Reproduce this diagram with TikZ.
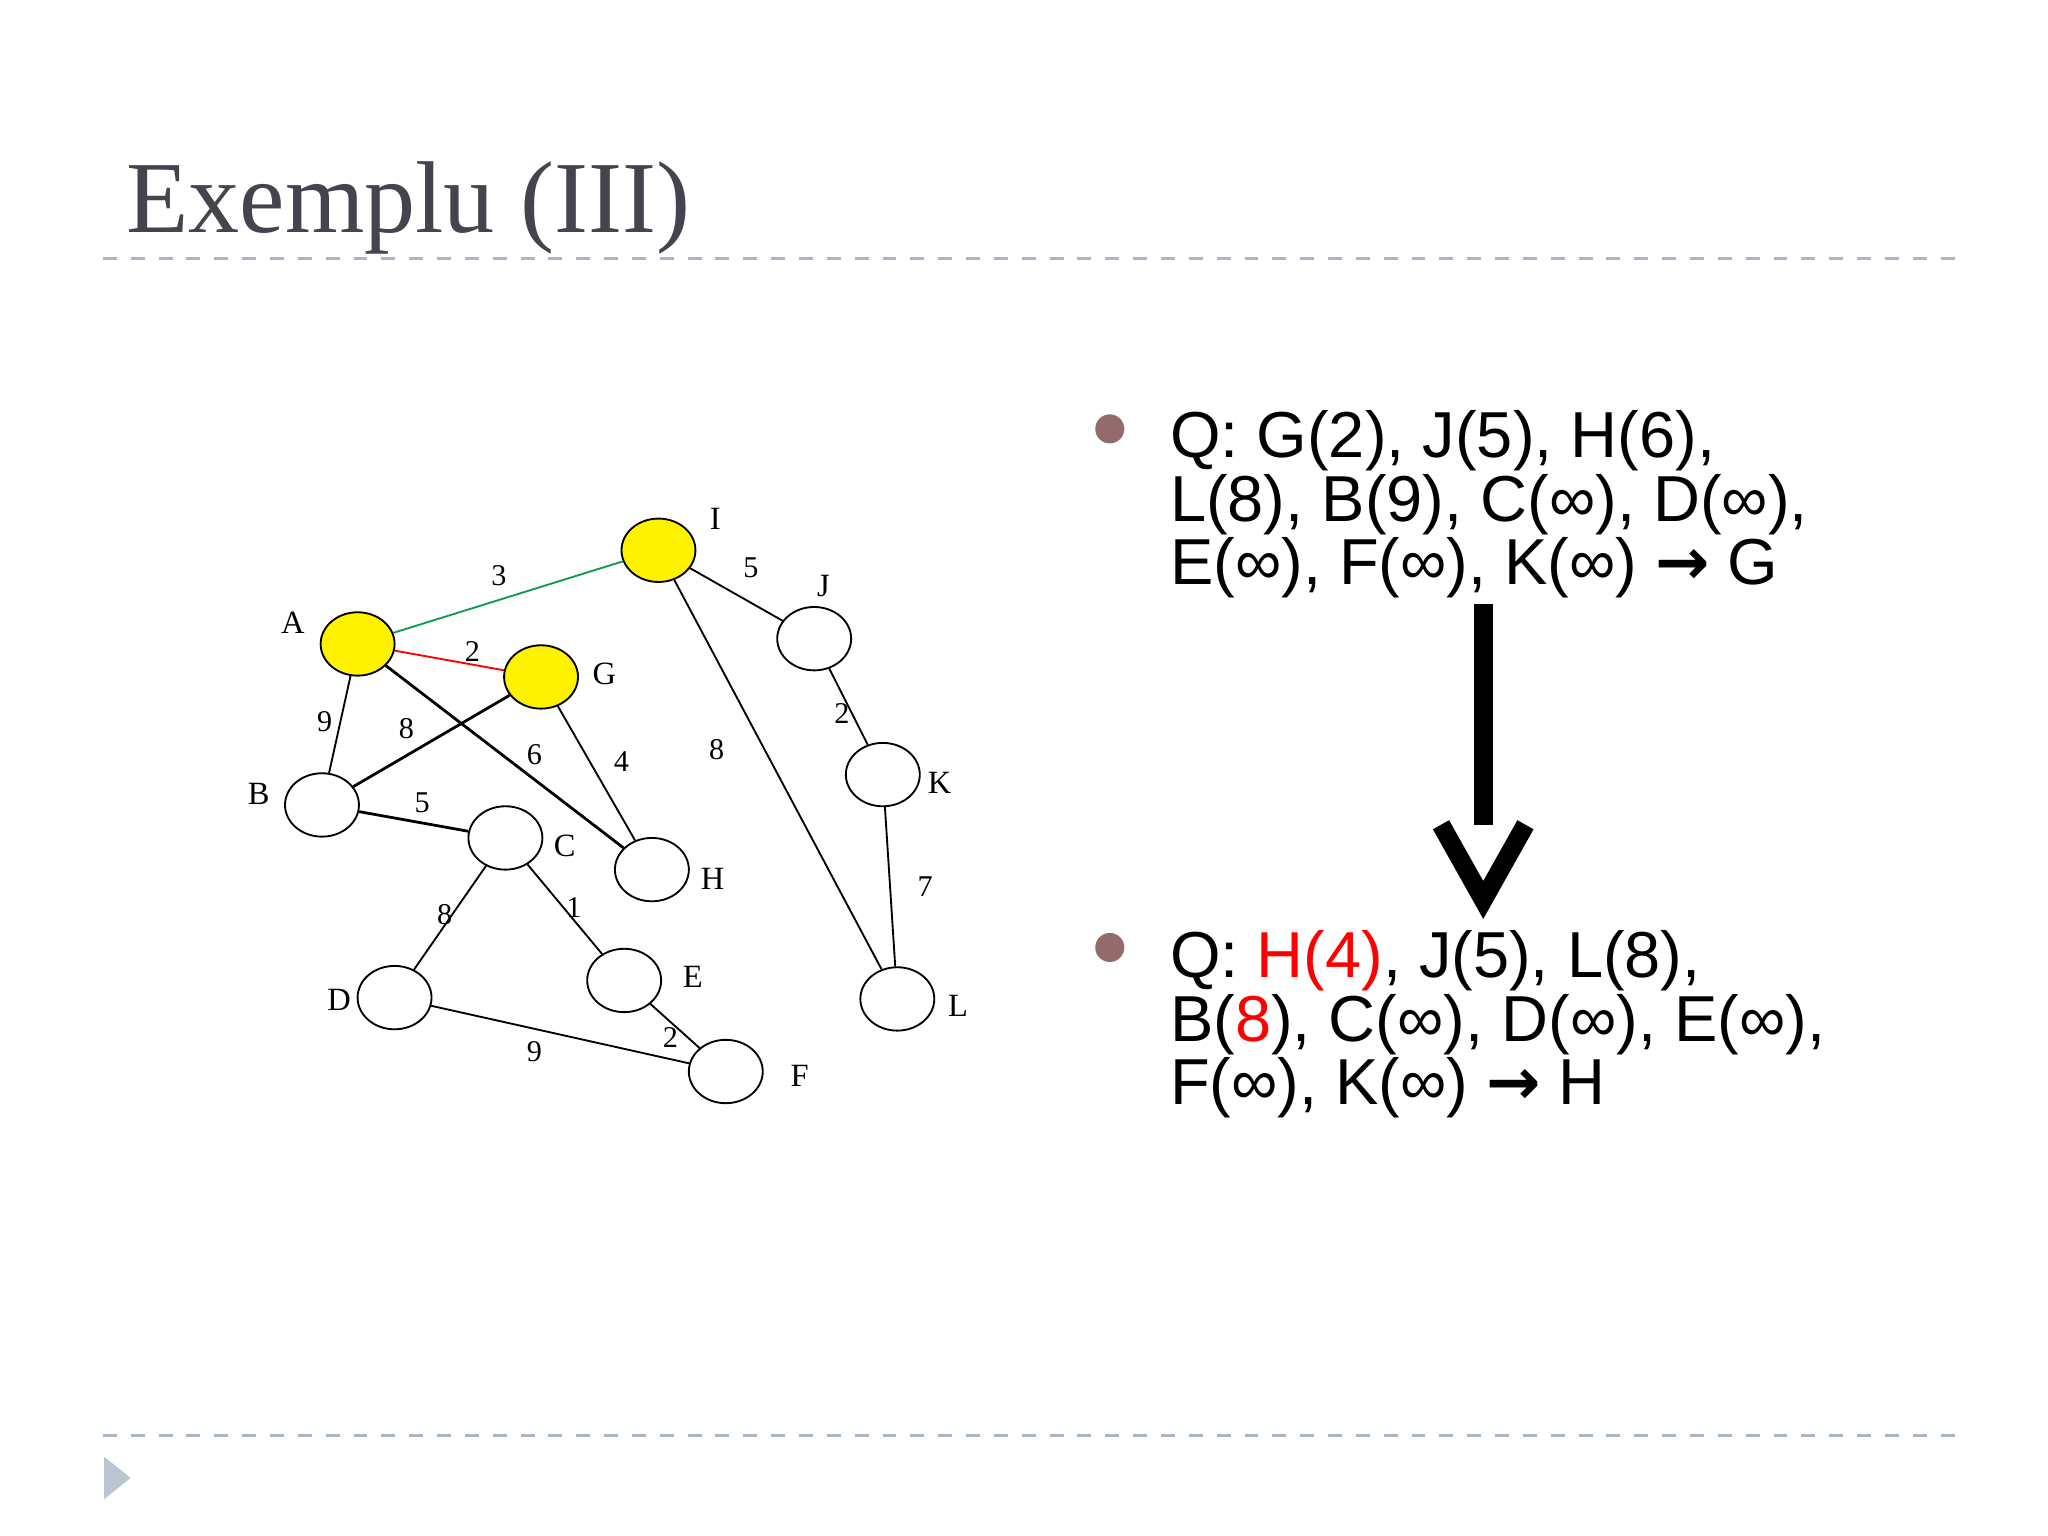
\documentclass[tikz,border=0pt]{standalone}
\usepackage{fontspec}
\setmainfont{Liberation Serif}
\newfontfamily\slidesans{Liberation Sans}
\newfontfamily\arrowfont{DejaVu Sans}
\usetikzlibrary{shapes.geometric}
\definecolor{titlegray}{HTML}{44444F}
\definecolor{rulegray}{HTML}{A9B6C6}
\definecolor{bulletbrown}{HTML}{956A6A}
\definecolor{edgegreen}{HTML}{109A50}
\newcommand{\inftxt}{∞}
\newcommand{\qarrow}{{\arrowfont\bfseries →}}
\tikzstyle{vertex} = [draw, ellipse, minimum width=0.56cm, minimum height=0.48cm, inner sep=0pt]
\tikzstyle{visited} = [vertex, fill=yellow]
\tikzstyle{vname} = [font=\fontsize{7}{8}\selectfont]
\tikzstyle{wlabel} = [font=\fontsize{6.5}{8}\selectfont]
\tikzstyle{qline} = [anchor=base west, inner sep=0pt, font=\slidesans\fontsize{14}{14}\selectfont]
\tikzstyle{bullet} = [circle, fill=bulletbrown, minimum size=0.22cm, inner sep=0pt]
\tikzstyle{slide_rule} = [draw=rulegray, dashed, line width=0.6pt]
\begin{document}
\begin{tikzpicture}[x=0.01cm, y=-0.01cm]
\useasboundingbox[fill=white] (0,0) rectangle (1552,1164);

% title and rules
\node [anchor=base west, inner sep=0pt, text=titlegray, font=\fontsize{22}{26}\selectfont] (title) at (95,176) {Exemplu (III)};
\coordinate (r1l) at (78,196); \coordinate (r1r) at (1490,196);
\coordinate (r2l) at (78,1088); \coordinate (r2r) at (1490,1088);
\path [slide_rule] (r1l) -- (r1r);
\path [slide_rule] (r2l) -- (r2r);
\fill [rulegray!80] (79,1104) -- (99,1120) -- (79,1136) -- cycle;

% graph vertices
\node [visited] (A) at (271,488) {};
\node [visited] (I) at (499,417) {};
\node [visited] (G) at (410,513) {};
\node [vertex] (J) at (617,484) {};
\node [vertex] (K) at (669,587) {};
\node [vertex] (B) at (244,610) {};
\node [vertex] (C) at (383,635) {};
\node [vertex] (H) at (494,659) {};
\node [vertex] (D) at (299,756) {};
\node [vertex] (E) at (473,743) {};
\node [vertex] (F) at (550,812) {};
\node [vertex] (L) at (680,757) {};

\node [vname] at (222,472) {A};
\node [vname] at (542,393) {I};
\node [vname] at (458,511) {G};
\node [vname] at (624,444) {J};
\node [vname] at (712,593) {K};
\node [vname] at (196,602) {B};
\node [vname] at (428,641) {C};
\node [vname] at (540,666) {H};
\node [vname] at (257,758) {D};
\node [vname] at (525,740) {E};
\node [vname] at (606,815) {F};
\node [vname] at (726,762) {L};

% edges
\draw [edgegreen] (A) -- (I);
\draw [red] (A) -- (G);
\draw (I) -- (J);
\draw (A) -- (B);
\draw [line width=0.6pt] (G) -- (B);
\draw [line width=0.6pt] (A) -- (H);
\draw (G) -- (H);
\draw (I) -- (L);
\draw (J) -- (K);
\draw (K) -- (L);
\draw [line width=0.6pt] (B) -- (C);
\draw (C) -- (D);
\draw (C) -- (E);
\draw (D) -- (F);
\draw (E) -- (F);

\node [wlabel] at (378,436) {3};
\node [wlabel] at (358,494) {2};
\node [wlabel] at (569,430) {5};
\node [wlabel] at (246,547) {9};
\node [wlabel] at (308,552) {8};
\node [wlabel] at (405,572) {6};
\node [wlabel] at (471,577) {4};
\node [wlabel] at (543,568) {8};
\node [wlabel] at (638,541) {2};
\node [wlabel] at (701,672) {7};
\node [wlabel] at (320,608) {5};
\node [wlabel] at (337,693) {8};
\node [wlabel] at (435,688) {1};
\node [wlabel] at (405,797) {9};
\node [wlabel] at (508,786) {2};

% queue states
\node [bullet] (b1) at (841,325) {};
\node [qline] (q1a) at (886,347) {Q: G(2), J(5), H(6),};
\node [qline] (q1b) at (886,395) {L(8), B(9), C(\inftxt), D(\inftxt),};
\node [qline] (q1c) at (886,443) {E(\inftxt), F(\inftxt), K(\inftxt) \qarrow{} G};
\node [bullet] (b2) at (841,718) {};
\node [qline] (q2a) at (886,741) {Q: \textcolor{red}{H(4)}, J(5), L(8),};
\node [qline] (q2b) at (886,789) {B(\textcolor{red}{8}), C(\inftxt), D(\inftxt), E(\inftxt),};
\node [qline] (q2c) at (886,837) {F(\inftxt), K(\inftxt) \qarrow{} H};

% big arrow
\coordinate (ar_top) at (1124,458);
\coordinate (ar_mid) at (1124,625);
\draw [line width=4pt] (ar_top) -- (ar_mid);
\draw [line width=4pt, line join=miter] (1092,625) -- (1124,682) -- (1156,625);
\end{tikzpicture}
\end{document}
